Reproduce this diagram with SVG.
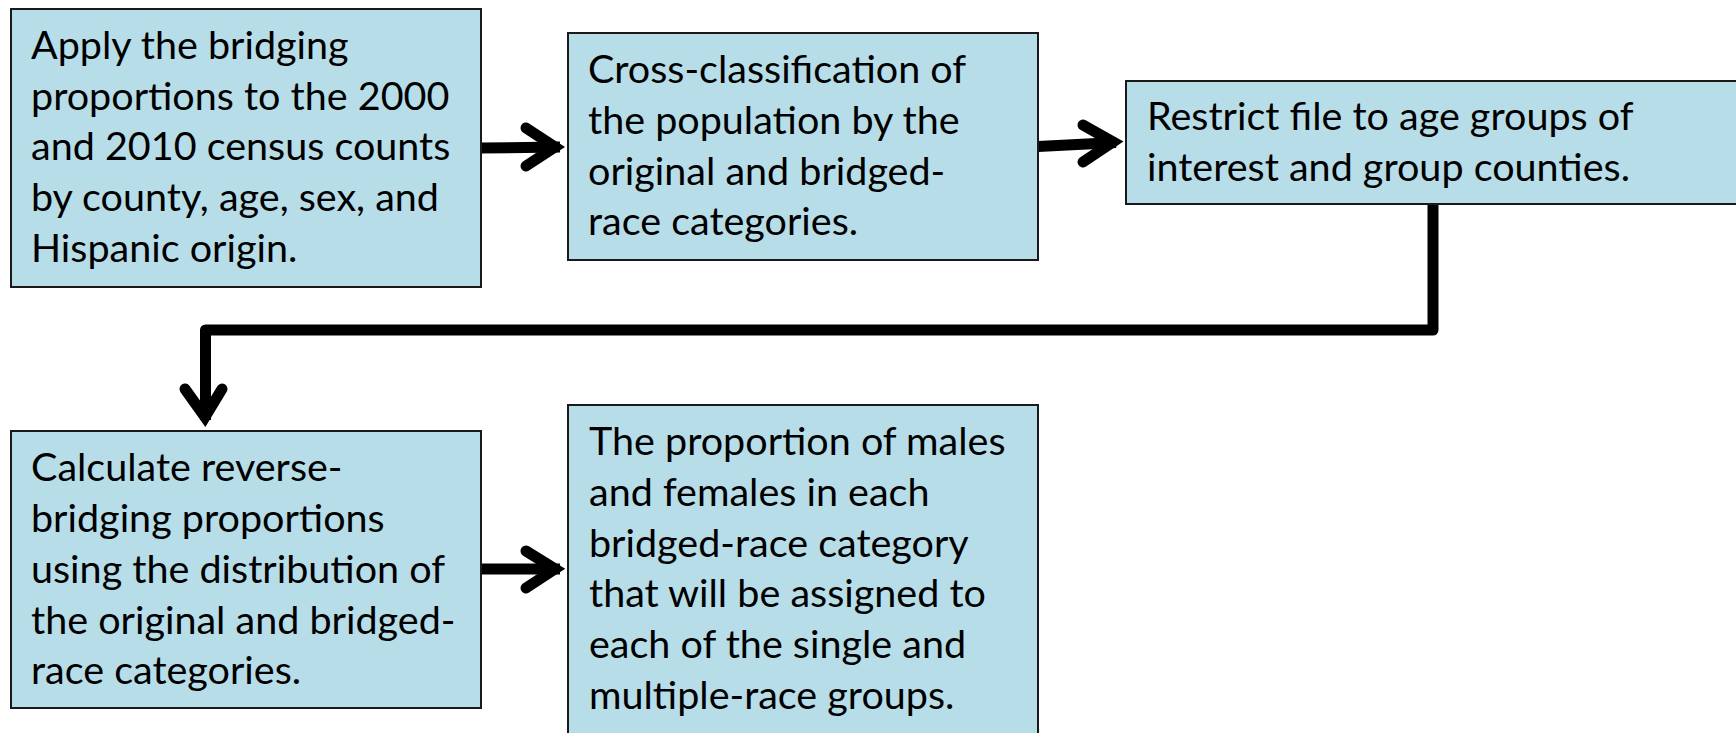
<svg xmlns="http://www.w3.org/2000/svg" width="1736" height="733" viewBox="0 0 1736 733">
<style>
.box{fill:#B7DDE8;stroke:#1a1a1a;stroke-width:2}
.t{font-family:Lato,"Open Sans","Liberation Sans",sans-serif;font-size:39.5px;fill:#000}
.ln{fill:none;stroke:#000;stroke-width:11;stroke-linecap:butt;stroke-linejoin:round}
.hd{fill:none;stroke:#000;stroke-width:11;stroke-linecap:round;stroke-linejoin:miter;stroke-miterlimit:10}
</style>
<rect width="1736" height="733" fill="#fff"/>
<g id="connectors">
<path class="ln" d="M481,148 L560,147"/>
<path class="hd" d="M526,128 L555,147 L526,166"/>
<path class="ln" d="M1038,146.5 L1116,142.5"/>
<path class="hd" d="M1083,125 L1113,142 L1083,162"/>
<path class="ln" d="M1433,204 L1433,330 L205.5,330 L205.5,420"/>
<path class="hd" d="M185,389 L205,417 L222,389"/>
<path class="ln" d="M481,569 L560,569"/>
<path class="hd" d="M526,551 L555,569 L526,588"/>
</g>
<g id="n1">
<rect class="box" x="11" y="9" width="470" height="278"/>
<text class="t" x="31" y="58.5">Apply the bridging</text>
<text class="t" x="31" y="109.5">proportions to the 2000</text>
<text class="t" x="31" y="160">and 2010 census counts</text>
<text class="t" x="31" y="211">by county, age, sex, and</text>
<text class="t" x="31" y="262">Hispanic origin.</text>
</g>
<g id="n2">
<rect class="box" x="568" y="33" width="470" height="227"/>
<text class="t" x="588" y="83">Cross-classification of</text>
<text class="t" x="588" y="134">the population by the</text>
<text class="t" x="588" y="185">original and bridged-</text>
<text class="t" x="588" y="235">race categories.</text>
</g>
<g id="n3">
<rect class="box" x="1126" y="81" width="620" height="123"/>
<text class="t" x="1147" y="130">Restrict file to age groups of</text>
<text class="t" x="1147" y="181">interest and group counties.</text>
</g>
<g id="n4">
<rect class="box" x="11" y="431" width="470" height="277"/>
<text class="t" x="31" y="481">Calculate reverse-</text>
<text class="t" x="31" y="532">bridging proportions</text>
<text class="t" x="31" y="583">using the distribution of</text>
<text class="t" x="31" y="634">the original and bridged-</text>
<text class="t" x="31" y="684">race categories.</text>
</g>
<g id="n5">
<rect class="box" x="568" y="405" width="470" height="340"/>
<text class="t" x="589" y="455">The proportion of males</text>
<text class="t" x="589" y="506">and females in each</text>
<text class="t" x="589" y="557">bridged-race category</text>
<text class="t" x="589" y="607">that will be assigned to</text>
<text class="t" x="589" y="658">each of the single and</text>
<text class="t" x="589" y="709">multiple-race groups.</text>
</g>
</svg>
